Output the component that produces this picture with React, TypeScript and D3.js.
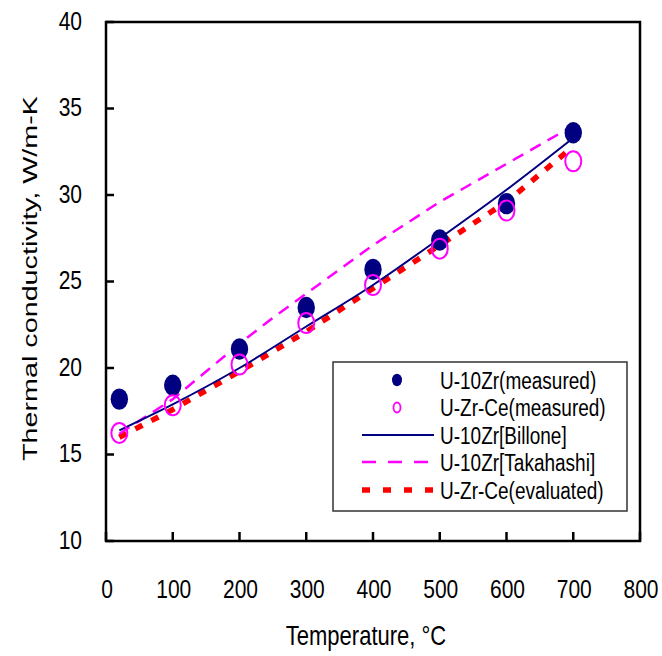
import React, { useRef, useEffect } from 'react'
import * as d3 from 'd3'

const temps = [20, 100, 200, 300, 400, 500, 600, 700]
const u10zrMeasured = [18.2, 19.0, 21.1, 23.5, 25.7, 27.4, 29.5, 33.6]
const uzrceMeasured = [16.25, 17.85, 20.2, 22.6, 24.8, 26.9, 29.1, 31.95]
const billone = [16.4, 17.9, 20.0, 22.4, 24.8, 27.5, 30.3, 33.3]
const takahashiT = [20, 100, 200, 250, 300, 400, 500, 600, 700]
const takahashi = [16.2, 18.2, 21.4, 22.9, 24.3, 27.1, 29.6, 31.8, 34.0]
const evaluated = [16.0, 17.6, 19.8, 22.1, 24.6, 27.1, 29.6, 32.8]
const xTicks = [0, 100, 200, 300, 400, 500, 600, 700, 800]
const yTicks = [10, 15, 20, 25, 30, 35, 40]
const legendLabels = [
    'U-10Zr(measured)',
    'U-Zr-Ce(measured)',
    'U-10Zr[Billone]',
    'U-10Zr[Takahashi]',
    'U-Zr-Ce(evaluated)',
]

const W = 662
const H = 656
const FONT = '"Liberation Sans", Arial, sans-serif'
const VS = 1.25 // the picture is stretched vertically

const App = () => {
    const svgRef = useRef<SVGSVGElement>(null)

    useEffect(() => {
        const svg = d3.select(svgRef.current)
        svg.selectAll('*').remove()

        const x = d3.scaleLinear().domain([0, 800]).range([106, 640])
        const y = d3.scaleLinear().domain([10, 40]).range([541, 22])

        const stretchText = (g, tx, ty, text, size, anchor) =>
            g.append('text')
                .attr('transform', `translate(${tx},${ty}) scale(1,${VS})`)
                .attr('text-anchor', anchor)
                .attr('font-family', FONT)
                .attr('font-size', size)
                .attr('fill', '#000')
                .text(text)

        // frame
        svg.append('rect')
            .attr('x', x(0)).attr('y', y(40))
            .attr('width', x(800) - x(0)).attr('height', y(10) - y(40))
            .attr('fill', 'none').attr('stroke', '#000').attr('stroke-width', 2.5)

        // ticks
        svg.selectAll('.yt').data(yTicks).join('line')
            .attr('x1', x(0)).attr('x2', x(0) + 8)
            .attr('y1', d => y(d)).attr('y2', d => y(d))
            .attr('stroke', '#000').attr('stroke-width', 2.5)
        svg.selectAll('.xt').data(xTicks).join('line')
            .attr('x1', d => x(d)).attr('x2', d => x(d))
            .attr('y1', y(10)).attr('y2', y(10) - 9)
            .attr('stroke', '#000').attr('stroke-width', 2.5)

        yTicks.forEach(t => stretchText(svg, 82, y(t) + 7.5, String(t), 21, 'end'))
        xTicks.forEach(t => stretchText(svg, x(t) + 1, 598, String(t), 21, 'middle'))

        stretchText(svg, 366, 645, 'Temperature, °C', 22, 'middle')

        svg.append('text')
            .attr('transform', 'translate(37,278.5) rotate(-90)')
            .attr('text-anchor', 'middle')
            .attr('font-family', FONT)
            .attr('font-size', 19.5)
            .attr('textLength', 365)
            .attr('lengthAdjust', 'spacingAndGlyphs')
            .text('Thermal conductivity, W/m-K')

        // lines
        const line = d3.line<[number, number]>().x(d => x(d[0])).y(d => y(d[1]))
        const pts = (xs, ys) => xs.map((t, i) => [t, ys[i]] as [number, number])

        svg.append('path')
            .attr('d', line.curve(d3.curveLinear)(pts(temps, evaluated)))
            .attr('fill', 'none').attr('stroke', '#ff0000')
            .attr('stroke-width', 5.5).attr('stroke-dasharray', '8,10')
        svg.append('path')
            .attr('d', line.curve(d3.curveLinear)(pts(takahashiT, takahashi)))
            .attr('fill', 'none').attr('stroke', '#ff00ff')
            .attr('stroke-width', 2.5).attr('stroke-dasharray', '12,8')
        svg.append('path')
            .attr('d', line.curve(d3.curveMonotoneX)(pts(temps, billone)))
            .attr('fill', 'none').attr('stroke', '#000080')
            .attr('stroke-width', 2)

        // markers
        svg.selectAll('.m1').data(pts(temps, u10zrMeasured)).join('ellipse')
            .attr('cx', d => x(d[0])).attr('cy', d => y(d[1]))
            .attr('rx', 8.7).attr('ry', 10.7)
            .attr('fill', '#000080')
        svg.selectAll('.m2').data(pts(temps, uzrceMeasured)).join('ellipse')
            .attr('cx', d => x(d[0])).attr('cy', d => y(d[1]))
            .attr('rx', 8).attr('ry', 10)
            .attr('fill', 'none').attr('stroke', '#ff00ff').attr('stroke-width', 2)

        // legend
        const lg = svg.append('g')
        lg.append('rect')
            .attr('x', 333).attr('y', 362).attr('width', 294).attr('height', 149)
            .attr('fill', '#fff').attr('stroke', '#333').attr('stroke-width', 1.5)
        const rowY = [380, 407.5, 435, 462, 490]
        lg.append('ellipse').attr('cx', 397).attr('cy', rowY[0]).attr('rx', 5).attr('ry', 6.2)
            .attr('fill', '#000080')
        lg.append('ellipse').attr('cx', 397).attr('cy', rowY[1]).attr('rx', 3.5).attr('ry', 5)
            .attr('fill', 'none').attr('stroke', '#ff00ff').attr('stroke-width', 1.8)
        lg.append('line').attr('x1', 362).attr('x2', 434).attr('y1', rowY[2]).attr('y2', rowY[2])
            .attr('stroke', '#000080').attr('stroke-width', 2)
        lg.append('line').attr('x1', 362).attr('x2', 434).attr('y1', rowY[3]).attr('y2', rowY[3])
            .attr('stroke', '#ff00ff').attr('stroke-width', 2.5).attr('stroke-dasharray', '14,12')
        lg.append('line').attr('x1', 362).attr('x2', 434).attr('y1', rowY[4]).attr('y2', rowY[4])
            .attr('stroke', '#ff0000').attr('stroke-width', 5.5).attr('stroke-dasharray', '8,13')
        legendLabels.forEach((l, i) => stretchText(lg, 440, rowY[i] + 8.5, l, 19, 'start'))
    }, [])

    return (
        <svg ref={svgRef} width={W} height={H}
            style={{ position: 'absolute', left: 0, top: 0, background: '#fff' }} />
    )
}

export default App
